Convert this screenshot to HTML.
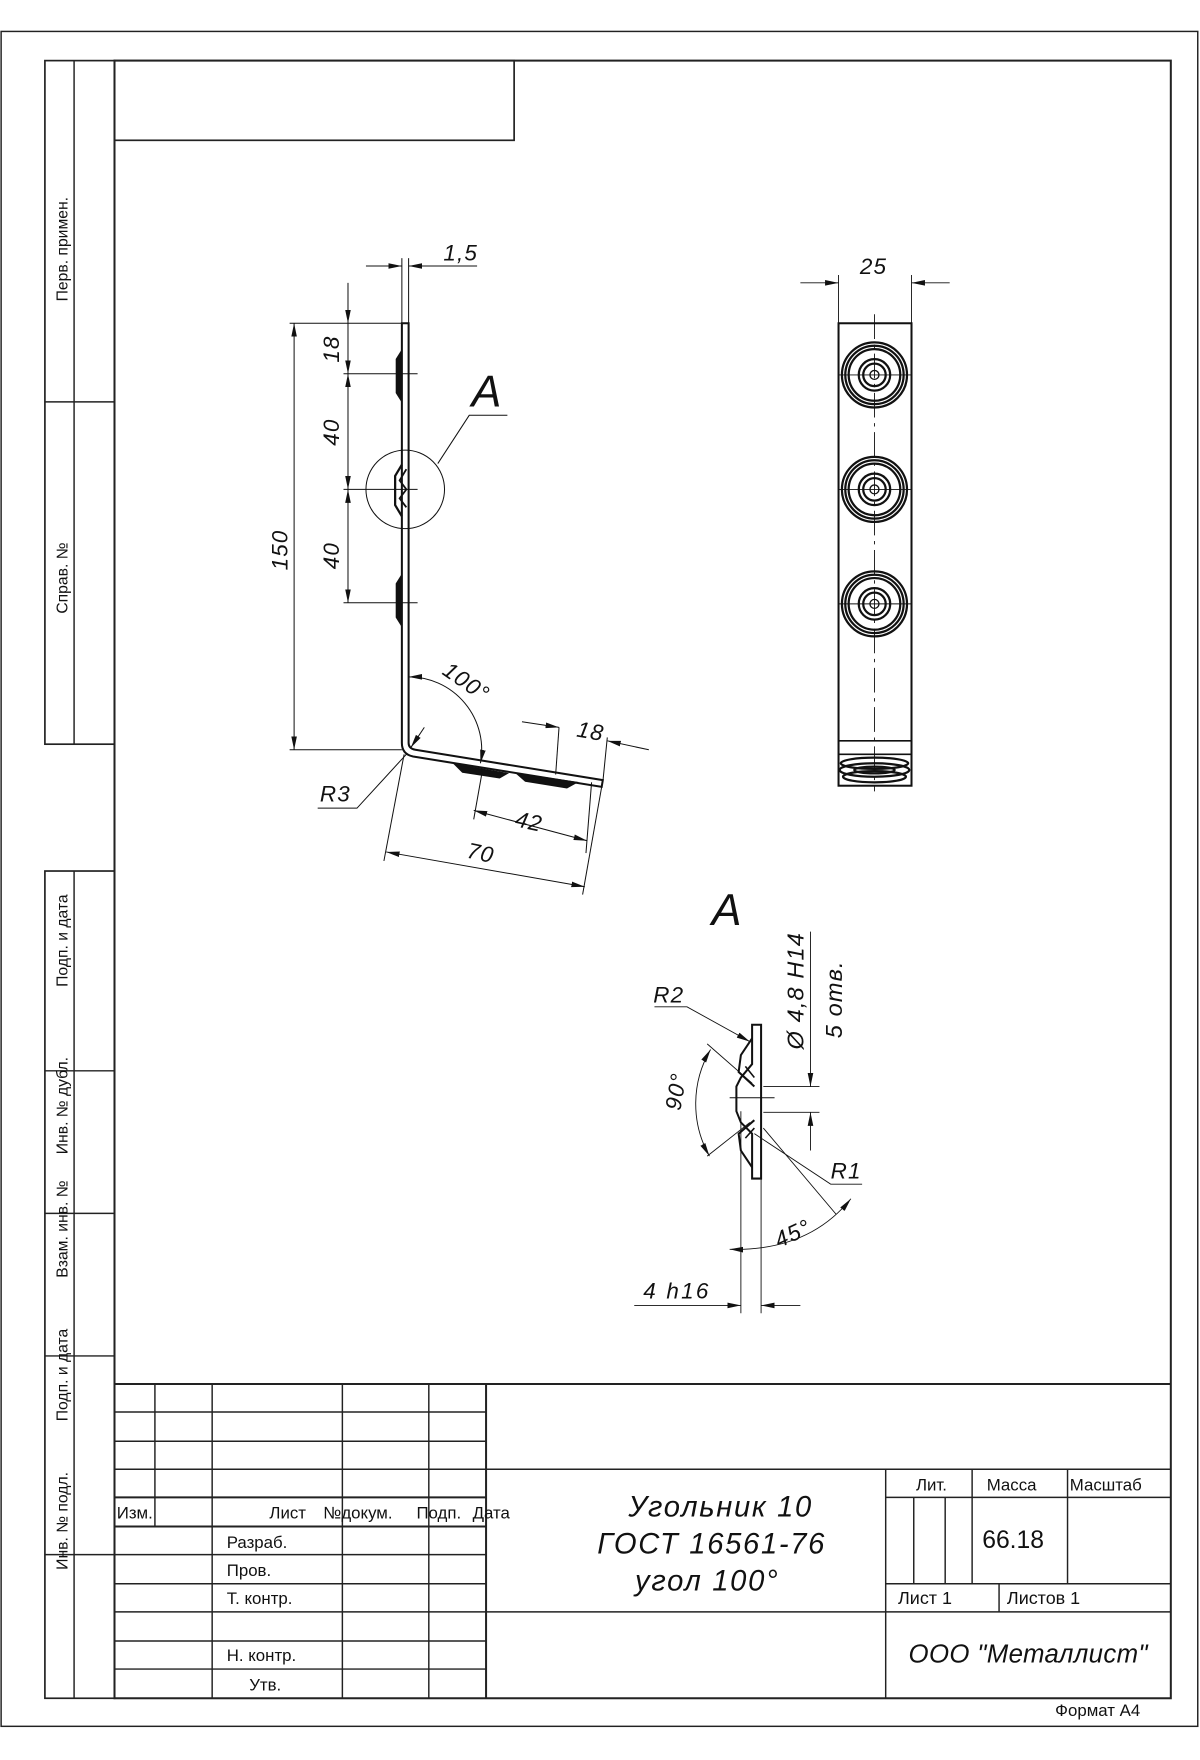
<!DOCTYPE html>
<html><head><meta charset="utf-8"><style>
html,body{margin:0;padding:0;background:#fff}
svg{display:block}
text{font-family:"Liberation Sans",sans-serif;fill:#111}
.it{font-style:italic}
</style></head><body>
<svg width="1200" height="1760" viewBox="0 0 1069 1568" preserveAspectRatio="none" xmlns="http://www.w3.org/2000/svg">
<defs>
<marker id="a" viewBox="0 0 12 6" refX="12" refY="3" markerWidth="12" markerHeight="6" markerUnits="userSpaceOnUse" orient="auto-start-reverse"><path d="M0,0.5 L12,3 L0,5.5 Z" fill="#111"/></marker>
</defs>
<g fill="none" stroke="#222">
<rect x="1" y="28" width="1066" height="1510" stroke-width="1.3"/>
<rect x="102" y="54" width="941" height="1459" stroke-width="1.8"/>
<rect x="102" y="54" width="356" height="71" stroke-width="1.5"/>
<rect x="40" y="54" width="62" height="609" stroke-width="1.5"/>
<line x1="66" y1="54" x2="66" y2="663" stroke-width="1.3"/>
<line x1="40" y1="358" x2="102" y2="358" stroke-width="1.3"/>
<rect x="40" y="776" width="62" height="737" stroke-width="1.5"/>
<line x1="66" y1="776" x2="66" y2="1513" stroke-width="1.3"/>
<line x1="40" y1="954" x2="102" y2="954" stroke-width="1.3"/>
<line x1="40" y1="1081" x2="102" y2="1081" stroke-width="1.3"/>
<line x1="40" y1="1208" x2="102" y2="1208" stroke-width="1.3"/>
<line x1="40" y1="1385" x2="102" y2="1385" stroke-width="1.3"/>
<g stroke-width="1.3">
<line x1="102" y1="1233" x2="1043" y2="1233" stroke-width="1.8"/>
<line x1="102" y1="1258" x2="433" y2="1258"/>
<line x1="102" y1="1284" x2="433" y2="1284"/>
<line x1="102" y1="1309" x2="1043" y2="1309"/>
<line x1="102" y1="1334" x2="433" y2="1334" stroke-width="1.8"/>
<line x1="102" y1="1360" x2="433" y2="1360" stroke-width="1.8"/>
<line x1="102" y1="1385" x2="433" y2="1385"/>
<line x1="102" y1="1411" x2="433" y2="1411"/>
<line x1="102" y1="1436" x2="1043" y2="1436"/>
<line x1="102" y1="1462" x2="433" y2="1462"/>
<line x1="102" y1="1487" x2="433" y2="1487"/>
<line x1="138" y1="1233" x2="138" y2="1360"/>
<line x1="189" y1="1233" x2="189" y2="1513"/>
<line x1="305" y1="1233" x2="305" y2="1513"/>
<line x1="382" y1="1233" x2="382" y2="1513"/>
<line x1="433" y1="1233" x2="433" y2="1513" stroke-width="1.8"/>
<line x1="789" y1="1309" x2="789" y2="1513"/>
<line x1="789" y1="1334" x2="1043" y2="1334"/>
<line x1="789" y1="1411" x2="1043" y2="1411"/>
<line x1="866" y1="1309" x2="866" y2="1411"/>
<line x1="951" y1="1309" x2="951" y2="1411"/>
<line x1="814" y1="1334" x2="814" y2="1411"/>
<line x1="842" y1="1334" x2="842" y2="1411"/>
<line x1="890" y1="1411" x2="890" y2="1436"/>
</g>
</g>
<g font-size="15">
<text x="104" y="1353">Изм.</text>
<text x="240" y="1353">Лист</text>
<text x="288" y="1353">№докум.</text>
<text x="371" y="1353">Подп.</text>
<text x="421" y="1353">Дата</text>
<text x="202" y="1379">Разраб.</text>
<text x="202" y="1404">Пров.</text>
<text x="202" y="1429">Т. контр.</text>
<text x="202" y="1480">Н. контр.</text>
<text x="222" y="1506">Утв.</text>
<text x="816" y="1328">Лит.</text>
<text x="879" y="1328">Масса</text>
<text x="953" y="1328">Масштаб</text>
<text x="875" y="1379" font-size="22">66.18</text>
<text x="800" y="1429" font-size="16">Лист 1</text>
<text x="897" y="1429" font-size="16">Листов 1</text>
<text x="940" y="1529" font-size="15">Формат А4</text>
</g>
<g class="it" font-size="26" text-anchor="middle" letter-spacing="1.5">
<text x="642" y="1351">Угольник 10</text>
<text x="634" y="1384">ГОСТ 16561-76</text>
<text x="630" y="1417">угол 100°</text>
</g>
<text class="it" x="916" y="1481" font-size="23" text-anchor="middle" letter-spacing="0.3">ООО "Металлист"</text>
<g font-size="14" text-anchor="middle">
<text transform="translate(60,222) rotate(-90)">Перв. примен.</text>
<text transform="translate(60,515) rotate(-90)">Справ. №</text>
<text transform="translate(60,838) rotate(-90)">Подп. и дата</text>
<text transform="translate(60,985) rotate(-90)">Инв. № дубл.</text>
<text transform="translate(60,1095) rotate(-90)">Взам. инв. №</text>
<text transform="translate(60,1225) rotate(-90)">Подп. и дата</text>
<text transform="translate(60,1355) rotate(-90)">Инв. № подл.</text>
</g>

<g fill="none" stroke="#111">
<path d="M358,288 L364,288 L364,662 Q364,667 370,668 L537,695 L536,701 L368,674 Q358,672 358,662 Z" stroke-width="1.8" fill="#fff"/>
<line x1="361" y1="290" x2="361" y2="662" stroke-width="1" stroke="#fff"/>
<path d="M358,312 L353,320 L353,350 L358,358 Z" fill="#111" stroke-width="1"/>
<path d="M358,512 L353,520 L353,550 L358,558 Z" fill="#111" stroke-width="1"/>
<path d="M358,414 L352,424 L352,450 L358,460" stroke-width="2"/>
<path d="M362,418 L356,428 L362,436 L356,444 L362,452" stroke-width="1.6"/>
<path d="M405,681 L412,688 L445,693 L452,689 Z" fill="#111" stroke-width="1"/>
<path d="M460,689 L468,696 L505,702 L514,697 Z" fill="#111" stroke-width="1"/>
<g stroke-width="0.9">
<line x1="358" y1="230" x2="358" y2="288"/><line x1="364" y1="230" x2="364" y2="288"/>
<line x1="326" y1="237" x2="358" y2="237" marker-end="url(#a)"/>
<line x1="425" y1="237" x2="364" y2="237" marker-end="url(#a)"/>
<line x1="258" y1="288" x2="358" y2="288"/><line x1="258" y1="668" x2="358" y2="668"/>
<line x1="262" y1="288" x2="262" y2="668" marker-start="url(#a)" marker-end="url(#a)"/>
<line x1="310" y1="252" x2="310" y2="288" marker-end="url(#a)"/>
<line x1="310" y1="288" x2="310" y2="333" marker-end="url(#a)"/>
<line x1="310" y1="333" x2="310" y2="436" marker-start="url(#a)" marker-end="url(#a)"/>
<line x1="310" y1="436" x2="310" y2="537" marker-start="url(#a)" marker-end="url(#a)"/>
<line x1="306" y1="333" x2="372" y2="333"/><line x1="306" y1="436" x2="372" y2="436"/><line x1="306" y1="537" x2="372" y2="537"/>
<circle cx="361" cy="436" r="35"/>
<polyline points="390,413 418,370 452,370"/>
<path d="M364,603 A65,65 0 0 1 428,680" marker-start="url(#a)" marker-end="url(#a)"/>
<line x1="495" y1="690" x2="498" y2="648"/><line x1="537" y1="697" x2="541" y2="657"/>
<line x1="465" y1="643" x2="498" y2="648" marker-end="url(#a)"/>
<line x1="578" y1="668" x2="541" y2="660" marker-end="url(#a)"/>
<line x1="430" y1="685" x2="422" y2="730"/><line x1="527" y1="697" x2="522" y2="760"/>
<line x1="422" y1="722" x2="523" y2="749" marker-start="url(#a)" marker-end="url(#a)"/>
<line x1="360" y1="672" x2="342" y2="767"/><line x1="536" y1="701" x2="519" y2="797"/>
<line x1="344" y1="759" x2="521" y2="790" marker-start="url(#a)" marker-end="url(#a)"/>
<polyline points="283,720 318,720 362,672" />
<line x1="378" y1="648" x2="366" y2="666" marker-end="url(#a)"/>
</g>
</g>
<g class="it" font-size="20" letter-spacing="1">
<text x="395" y="232">1,5</text>
<text transform="translate(256,490) rotate(-90)" text-anchor="middle">150</text>
<text transform="translate(302,311) rotate(-90)" text-anchor="middle">18</text>
<text transform="translate(302,385) rotate(-90)" text-anchor="middle">40</text>
<text transform="translate(302,495) rotate(-90)" text-anchor="middle">40</text>
<text transform="translate(393,600) rotate(35)">100°</text>
<text transform="translate(513,656) rotate(10)">18</text>
<text transform="translate(458,736) rotate(12)">42</text>
<text transform="translate(415,764) rotate(12)">70</text>
<text x="285" y="714">R3</text>
<text x="420" y="362" font-size="40">A</text>
<text x="634" y="824" font-size="40">A</text>
<text x="766" y="244">25</text>
<text x="582" y="893">R2</text>
<text x="740" y="1050">R1</text>
<text transform="translate(606,990) rotate(-80)">90°</text>
<text transform="translate(694,1112) rotate(-25)">45°</text>
<text x="573" y="1157" letter-spacing="2">4 h16</text>
<text transform="translate(716,935) rotate(-90)" font-size="21">Ø 4,8 H14</text>
<text transform="translate(750,925) rotate(-90)" font-size="21">5 отв.</text>
</g>

<g fill="none" stroke="#111">
<rect x="747" y="288" width="65" height="412" stroke-width="1.8"/>
<line x1="747" y1="660" x2="812" y2="660" stroke-width="1.4"/>
<line x1="747" y1="672" x2="812" y2="672" stroke-width="1.4"/>
<line x1="779" y1="280" x2="779" y2="705" stroke-width="0.8" stroke-dasharray="22,5,3,5"/>
<g stroke-width="0.8">
<line x1="747" y1="245" x2="747" y2="288"/><line x1="812" y1="245" x2="812" y2="288"/>
<line x1="713" y1="252" x2="747" y2="252" marker-end="url(#a)"/>
<line x1="846" y1="252" x2="812" y2="252" marker-end="url(#a)"/>
</g>
<g id="h1" stroke-width="2">
<circle cx="779" cy="334" r="29"/><circle cx="779" cy="334" r="26"/><circle cx="779" cy="334" r="23"/>
<circle cx="779" cy="334" r="14"/><circle cx="779" cy="334" r="10"/><circle cx="779" cy="334" r="4" stroke-width="1.2"/>
<line x1="747" y1="334" x2="812" y2="334" stroke-width="0.8"/>
</g>
<use href="#h1" y="102"/>
<use href="#h1" y="204"/>
<g stroke-width="2">
<ellipse cx="779" cy="680" rx="30" ry="5"/><ellipse cx="779" cy="686" rx="31" ry="6"/><ellipse cx="779" cy="692" rx="28" ry="5"/>
<ellipse cx="779" cy="686" rx="18" ry="3"/>
</g>
</g>

<g fill="none" stroke="#111">
<path d="M670,913 L678,913 L678,1050 L670,1050 L670,1010 L660,1000 L656,990 L656,968 L660,960 L670,948 Z" stroke-width="1.8"/>
<path d="M670,925 L660,940 L658,955 L672,968 M670,1040 L660,1025 L658,1010 L672,998" stroke-width="1.8"/>
<path d="M672,960 L664,950 M672,1005 L664,1014" stroke-width="1.4"/>
<g stroke-width="0.8">
<line x1="660" y1="990" x2="660" y2="1170"/><line x1="678" y1="1050" x2="678" y2="1170"/>
<line x1="650" y1="978" x2="690" y2="978"/>
<line x1="680" y1="968" x2="730" y2="968"/><line x1="680" y1="991" x2="730" y2="991"/>
<line x1="722" y1="830" x2="722" y2="968" marker-end="url(#a)"/>
<line x1="722" y1="1025" x2="722" y2="991" marker-end="url(#a)"/>
<polyline points="583,897 612,897 668,928" marker-end="url(#a)"/>
<polyline points="768,1055 740,1055 672,1010"/>
<line x1="630" y1="930" x2="670" y2="965"/><line x1="630" y1="1030" x2="668" y2="1000"/>
<line x1="680" y1="1005" x2="745" y2="1082"/>
<path d="M633,935 A95,95 0 0 0 632,1030" marker-start="url(#a)" marker-end="url(#a)"/>
<path d="M650,1113 Q720,1115 758,1068" marker-start="url(#a)" marker-end="url(#a)"/>
<line x1="565" y1="1163" x2="660" y2="1163" marker-end="url(#a)"/>
<line x1="713" y1="1163" x2="678" y2="1163" marker-end="url(#a)"/>
</g>
</g>
</svg>
</body></html>
